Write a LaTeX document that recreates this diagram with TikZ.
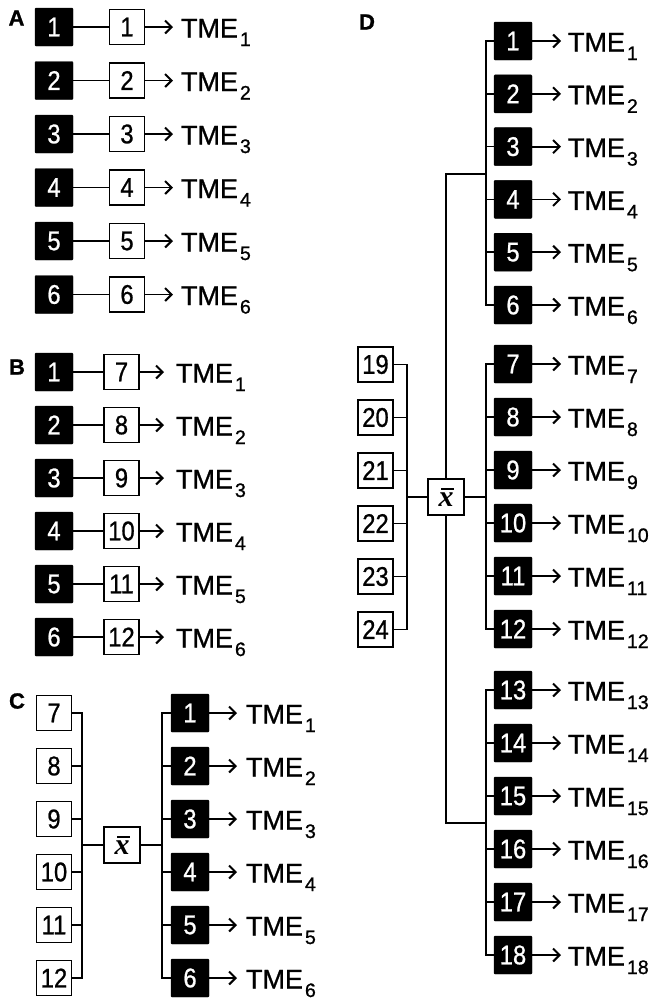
\documentclass[tikz,border=0pt]{standalone}
\usepackage{fontspec}
\setmainfont{Liberation Sans}[FakeBold=1.0]
\newfontfamily\narrowf[FakeStretch=0.88,FakeBold=0.8]{Liberation Sans}
\newfontfamily\serifx{Liberation Serif}
\usetikzlibrary{arrows.meta,calc}
\tikzset{
  blk/.style={draw=black, fill=black, text=white, minimum width=38bp, minimum height=38bp, inner sep=0pt, outer sep=0pt, rounded corners=1bp, font=\narrowf\fontsize{27bp}{27bp}\selectfont},
  wht/.style={draw=black, fill=white, line width=1.8bp, minimum width=35bp, minimum height=35bp, inner sep=0pt, outer sep=0pt, font=\narrowf\fontsize{27bp}{27bp}\selectfont},
  xbox/.style={wht, minimum width=36bp, minimum height=36bp, font=\serifx\fontsize{30bp}{30bp}\selectfont},
  tme/.style={anchor=base west, inner sep=0pt, outer sep=0pt, font=\fontsize{27bp}{27bp}\selectfont},
  lbl/.style={inner sep=0pt, font=\bfseries\fontsize{22bp}{22bp}\selectfont},
  ln/.style={line width=1.7bp},
  arr/.style={line width=1.8bp, -{Straight Barb[length=6.5bp,width=13bp,line width=2bp]}},
}
\newcommand{\tmelab}[1]{TME\hspace{2bp}\raisebox{-8.5bp}{\fontsize{19.5bp}{19.5bp}\selectfont #1}}
\newcommand{\xbarlab}{\textbf{\textit{x}}\llap{\rule[17bp]{13bp}{2bp}\hspace{-0.5bp}}}
\begin{document}
\begin{tikzpicture}[x=1bp,y=-1bp]
\useasboundingbox (0,0) rectangle (655,998);
\fill[white] (0,0) rectangle (655,998);

% ---------- Panel A ----------
\node[lbl] (lA) at (16.5,18) {A};
\foreach \i in {1,...,6}{
  \pgfmathsetmacro{\yy}{27+53.5*(\i-1)}
  \node[blk] (ab\i) at (54,\yy) {\i};
  \node[wht] (aw\i) at (127,\yy) {\i};
  \node[tme] (at\i) at (181,\yy+10.5) {\tmelab{\i}};
  \draw[ln] (ab\i.east) -- (aw\i.west);
  \draw[arr, shorten >=8bp] (aw\i.east) -- (aw\i.east -| at\i.west);
}

% ---------- Panel B ----------
\node[lbl] (lB) at (17,367) {B};
\foreach \i [evaluate=\i as \j using int(\i+6)] in {1,...,6}{
  \pgfmathsetmacro{\yy}{372+53*(\i-1)}
  \node[blk] (bb\i) at (54,\yy) {\i};
  \node[wht] (bw\i) at (121.5,\yy) {\j};
  \node[tme] (bt\i) at (176,\yy+10.5) {\tmelab{\i}};
  \draw[ln] (bb\i.east) -- (bw\i.west);
  \draw[arr, shorten >=12bp] (bw\i.east) -- (bw\i.east -| bt\i.west);
}

% ---------- Panel C ----------
\node[lbl] (lC) at (17,701) {C};
\coordinate (cl) at (82,845);
\coordinate (cr) at (162,845);
\node[xbox] (cx) at (122,845) {\xbarlab};
\foreach \i [evaluate=\i as \j using int(\i+6)] in {1,...,6}{
  \pgfmathsetmacro{\yy}{713+53*(\i-1)}
  \node[wht] (cw\i) at (54,\yy) {\j};
  \node[blk] (cb\i) at (190,\yy) {\i};
  \node[tme] (ct\i) at (246,\yy+10.5) {\tmelab{\i}};
  \draw[arr, shorten >=9bp] (cb\i.east) -- (cb\i.east -| ct\i.west);
}
\draw[ln] (cw1.east) -- (cw1.east -| cl) -- (cw6.east -| cl) -- (cw6.east);
\foreach \i in {2,...,5}{ \draw[ln] (cw\i.east) -- (cw\i.east -| cl); }
\draw[ln] (cb1.west) -- (cb1.west -| cr) -- (cb6.west -| cr) -- (cb6.west);
\foreach \i in {2,...,5}{ \draw[ln] (cb\i.west) -- (cb\i.west -| cr); }
\draw[ln] (cl) -- (cx.west);
\draw[ln] (cx.east) -- (cr);

% ---------- Panel D ----------
\node[lbl] (lD) at (367,22) {D};
\coordinate (dl) at (407,497);
\coordinate (dm1) at (446,174);
\coordinate (dm3) at (446,823);
\coordinate (dr1) at (486,174);
\coordinate (dr2) at (486,497);
\coordinate (dr3) at (486,823);
\foreach \i [evaluate=\i as \j using int(\i+18)] in {1,...,6}{
  \pgfmathsetmacro{\yy}{364.5+53*(\i-1)}
  \node[wht] (dw\i) at (375.5,\yy) {\j};
}
\draw[ln] (dw1.east) -- (dw1.east -| dl) -- (dw6.east -| dl) -- (dw6.east);
\foreach \i in {2,...,5}{ \draw[ln] (dw\i.east) -- (dw\i.east -| dl); }
\draw[ln] (dr1) -- (dm1) -- (dm3) -- (dr3);
\node[xbox] (dx) at (446,497) {\xbarlab};
\draw[ln] (dl) -- (dx.west);
\draw[ln] (dx.east) -- (dr2);
\foreach \i in {1,...,6}{
  \pgfmathsetmacro{\yy}{41+52.8*(\i-1)}
  \node[blk] (da\i) at (513,\yy) {\i};
  \node[tme] (dat\i) at (568,\yy+10.5) {\tmelab{\i}};
  \draw[arr, shorten >=7bp] (da\i.east) -- (da\i.east -| dat\i.west);
}
\draw[ln] (da1.west) -- (da1.west -| dr1) -- (da6.west -| dr1) -- (da6.west);
\foreach \i in {2,...,5}{ \draw[ln] (da\i.west) -- (da\i.west -| dr1); }
\foreach \i [evaluate=\i as \j using int(\i+6)] in {1,...,6}{
  \pgfmathsetmacro{\yy}{364+53*(\i-1)}
  \node[blk] (db\i) at (513,\yy) {\j};
  \node[tme] (dbt\i) at (568,\yy+10.5) {\tmelab{\j}};
  \draw[arr, shorten >=7bp] (db\i.east) -- (db\i.east -| dbt\i.west);
}
\draw[ln] (db1.west) -- (db1.west -| dr2) -- (db6.west -| dr2) -- (db6.west);
\foreach \i in {2,...,5}{ \draw[ln] (db\i.west) -- (db\i.west -| dr2); }
\foreach \i [evaluate=\i as \j using int(\i+12)] in {1,...,6}{
  \pgfmathsetmacro{\yy}{690+53*(\i-1)}
  \node[blk] (dc\i) at (513,\yy) {\j};
  \node[tme] (dct\i) at (568,\yy+10.5) {\tmelab{\j}};
  \draw[arr, shorten >=7bp] (dc\i.east) -- (dc\i.east -| dct\i.west);
}
\draw[ln] (dc1.west) -- (dc1.west -| dr3) -- (dc6.west -| dr3) -- (dc6.west);
\foreach \i in {2,...,5}{ \draw[ln] (dc\i.west) -- (dc\i.west -| dr3); }
\end{tikzpicture}
\end{document}
